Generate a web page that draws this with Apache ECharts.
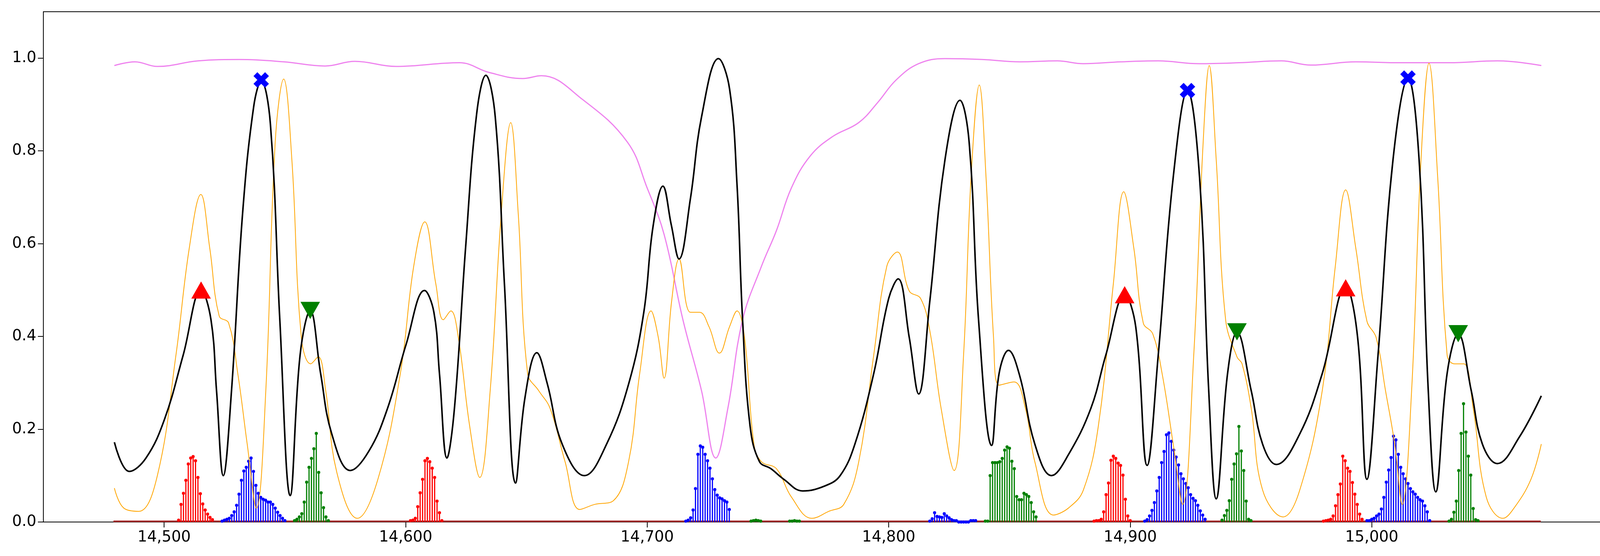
<!DOCTYPE html>
<html><head><meta charset="utf-8">
<script src="https://cdn.jsdelivr.net/npm/echarts@6/dist/echarts.min.js"></script>
<style>html,body{margin:0;padding:0;background:#fff}#c{width:4159px;height:1423px}</style>
</head><body><div id="c"></div>
<script>
// ---- data ----
const blackLine = [[14479.4,0.172],[14485.6,0.109],[14492.5,0.138],[14500.2,0.222],[14507.9,0.36],[14515.3,0.50],[14519.4,0.436],[14521.7,0.283],[14524.5,0.10],[14527.9,0.283],[14532.5,0.666],[14537.1,0.896],[14540.2,0.951],[14544,0.858],[14547.9,0.436],[14552.2,0.057],[14556.3,0.36],[14560.5,0.456],[14564.8,0.32],[14569.4,0.19],[14577.1,0.111],[14584.8,0.153],[14592.5,0.245],[14600.2,0.383],[14607.8,0.499],[14611.7,0.452],[14614,0.32],[14617.1,0.138],[14620.2,0.245],[14624.8,0.59],[14629.4,0.88],[14633.2,0.963],[14637.1,0.873],[14640.9,0.513],[14645.5,0.084],[14649.4,0.268],[14654.3,0.365],[14658.6,0.299],[14664.8,0.168],[14674,0.10],[14683.2,0.168],[14692.4,0.299],[14698.6,0.452],[14702.4,0.636],[14706.5,0.724],[14710,0.64],[14713.2,0.567],[14717.9,0.697],[14722.5,0.873],[14729.5,0.999],[14734.1,0.934],[14737.2,0.727],[14739.5,0.436],[14742.6,0.207],[14746.5,0.130],[14751.2,0.115],[14756.6,0.092],[14764.4,0.067],[14773.7,0.078],[14779.9,0.10],[14786,0.168],[14793.8,0.32],[14800,0.482],[14803.9,0.524],[14808.5,0.398],[14812.4,0.276],[14817,0.475],[14823.3,0.781],[14829.5,0.909],[14833.3,0.819],[14837.2,0.436],[14842.6,0.165],[14845.7,0.32],[14849.6,0.37],[14854.3,0.314],[14860.5,0.168],[14867.4,0.10],[14874.4,0.145],[14883.7,0.245],[14889.9,0.36],[14897.7,0.49],[14902.3,0.42],[14907,0.122],[14911.6,0.36],[14917.8,0.743],[14923.7,0.93],[14928.7,0.743],[14932.5,0.283],[14935.6,0.05],[14940.3,0.32],[14944.2,0.41],[14950.1,0.283],[14954.8,0.168],[14960.5,0.124],[14970.2,0.19],[14979.5,0.32],[14989.2,0.507],[14994.1,0.40],[14998,0.092],[15002.6,0.36],[15008.8,0.781],[15015,0.957],[15019.6,0.781],[15023.4,0.283],[15026.5,0.065],[15031.2,0.32],[15035.8,0.406],[15041.2,0.283],[15045.8,0.168],[15052,0.126],[15061.2,0.184],[15070.2,0.272]];
const orangeLine = [[14479.4,0.073],[14483.3,0.03],[14489.5,0.023],[14497.2,0.10],[14504.9,0.36],[14510.4,0.59],[14515.2,0.706],[14518.9,0.59],[14522.8,0.444],[14526.7,0.429],[14530.5,0.32],[14534.4,0.168],[14538.2,0.03],[14542.1,0.283],[14546,0.819],[14549.5,0.955],[14552.9,0.78],[14556.8,0.398],[14560.7,0.341],[14563.8,0.356],[14566.9,0.283],[14571.5,0.107],[14580,0.008],[14588.5,0.092],[14597.8,0.32],[14603.3,0.55],[14607.9,0.647],[14612.5,0.513],[14615.6,0.436],[14618.7,0.455],[14621.8,0.398],[14626.5,0.207],[14630.7,0.096],[14635,0.283],[14639.6,0.666],[14643.5,0.861],[14646.6,0.666],[14650.5,0.32],[14655.1,0.283],[14659.8,0.245],[14666,0.13],[14672.1,0.027],[14678.3,0.038],[14686,0.046],[14692.3,0.13],[14696.9,0.32],[14701.6,0.455],[14704.6,0.398],[14707,0.31],[14710.1,0.475],[14713.2,0.567],[14717.9,0.452],[14721.7,0.452],[14725.6,0.421],[14729.9,0.364],[14734.1,0.421],[14737.2,0.455],[14740.3,0.398],[14744.2,0.168],[14747.3,0.13],[14753.5,0.115],[14759.7,0.054],[14768.2,0.008],[14775.2,0.023],[14781.4,0.038],[14787.6,0.13],[14793.8,0.36],[14799.2,0.551],[14803.6,0.582],[14808.5,0.498],[14813.2,0.482],[14817,0.413],[14821.7,0.245],[14827.1,0.111],[14831,0.36],[14834.1,0.743],[14837.5,0.942],[14840.3,0.743],[14843.4,0.398],[14845.7,0.295],[14851.9,0.302],[14856.6,0.245],[14860.5,0.13],[14868.2,0.015],[14874.4,0.03],[14880.6,0.069],[14886.8,0.207],[14893,0.513],[14897.3,0.712],[14901.5,0.59],[14905.4,0.429],[14909.3,0.406],[14913.2,0.32],[14917.8,0.168],[14921.7,0.038],[14926.3,0.36],[14930.2,0.819],[14932.7,0.984],[14935.6,0.781],[14939.5,0.436],[14944.2,0.356],[14946.3,0.341],[14950.1,0.245],[14954.8,0.069],[14963.3,0.011],[14970.2,0.069],[14979.5,0.283],[14984.9,0.551],[14989.2,0.716],[14993.4,0.59],[14998,0.433],[15001.8,0.398],[15005.7,0.283],[15009.5,0.168],[15012.6,0.038],[15016.5,0.283],[15020.4,0.781],[15023.7,0.989],[15027.3,0.743],[15031.2,0.36],[15034.2,0.341],[15038.1,0.341],[15042,0.245],[15047.4,0.054],[15054.3,0.008],[15058.9,0.03],[15065.9,0.092],[15070.2,0.168]];
const violetLine = [[14479.4,0.984],[14487.9,0.992],[14497.2,0.982],[14514.1,0.994],[14531.1,0.997],[14549.6,0.992],[14566.6,0.983],[14579,0.993],[14596,0.982],[14622.3,0.99],[14634.6,0.969],[14648.5,0.956],[14656.2,0.962],[14673.2,0.911],[14691.8,0.819],[14700,0.72],[14707,0.62],[14714.8,0.436],[14722.5,0.283],[14728.4,0.138],[14733.4,0.245],[14739.5,0.436],[14747.3,0.551],[14753.5,0.628],[14759.7,0.72],[14767.5,0.789],[14776.8,0.831],[14787.6,0.861],[14795.4,0.904],[14803.1,0.953],[14812.4,0.988],[14823.3,0.999],[14838.8,0.997],[14854.3,0.992],[14869.8,0.994],[14880.6,0.988],[14896.1,0.992],[14911.6,0.994],[14928.5,0.988],[14945,0.99],[14962.5,0.994],[14974.8,0.985],[14993.4,0.992],[15012,0.99],[15031.9,0.99],[15052,0.994],[15070.2,0.984]];
const baseline = [[14479,0.0015],[15070,0.0015]];
const redStarts = [14506, 14602, 14885, 14980];
const redValues = [
 [0.004,0.038,0.062,0.09,0.125,0.138,0.141,0.132,0.096,0.061,0.039,0.026,0.017,0.010,0.005],
 [0.003,0.004,0.008,0.033,0.063,0.092,0.132,0.137,0.130,0.116,0.096,0.045,0.020,0.003],
 [0.002,0.003,0.003,0.006,0.022,0.059,0.084,0.133,0.142,0.137,0.127,0.122,0.101,0.049,0.013,0.003],
 [0.002,0.003,0.004,0.006,0.013,0.035,0.059,0.082,0.142,0.132,0.116,0.109,0.085,0.06,0.038,0.017,0.006]];
const blueStarts = [14524, 14716, 14817, 14906, 14998];
const blueValues = [
 [0.002,0.004,0.006,0.008,0.014,0.022,0.036,0.06,0.09,0.11,0.118,0.131,0.138,0.109,0.079,0.062,0.053,0.049,0.047,0.043,0.043,0.038,0.03,0.021,0.014,0.008,0.003],
 [0.002,0.004,0.009,0.026,0.072,0.146,0.164,0.161,0.146,0.132,0.116,0.093,0.07,0.058,0.052,0.05,0.046,0.043,0.027],
 [0.002,0.007,0.02,0.012,0.011,0.01,0.018,0.013,0.009,0.005,0.003,0.003,0,0,0,0,0,0.003,0.003,0.003],
 [0.002,0.005,0.013,0.025,0.042,0.067,0.096,0.128,0.152,0.188,0.192,0.174,0.155,0.14,0.123,0.104,0.093,0.083,0.074,0.059,0.051,0.046,0.036,0.024,0.015,0.006],
 [0.003,0.003,0.006,0.008,0.013,0.017,0.028,0.053,0.086,0.112,0.139,0.185,0.177,0.146,0.118,0.104,0.093,0.083,0.072,0.065,0.06,0.053,0.048,0.045,0.035,0.022,0.003]];
const greenStarts = [14554, 14743, 14759, 14840, 14938, 15032];
const greenValues = [
 [0.003,0.006,0.011,0.018,0.043,0.086,0.118,0.137,0.158,0.191,0.107,0.063,0.031,0.011,0.003],
 [0.002,0.003,0.004,0.003,0.002],
 [0.002,0.002,0.003,0.002,0.002],
 [0.002,0.002,0.10,0.128,0.128,0.128,0.13,0.137,0.155,0.162,0.159,0.131,0.115,0.055,0.048,0.048,0.062,0.059,0.055,0.042,0.022,0.011],
 [0.004,0.014,0.025,0.046,0.092,0.125,0.147,0.206,0.153,0.111,0.045,0.006,0.003],
 [0.002,0.006,0.021,0.045,0.111,0.191,0.255,0.194,0.142,0.101,0.029,0.005,0.003]];
const redMarks = [[14515.3,0.50],[14897.7,0.49],[14989.2,0.505]];
const blueMarks = [[14540.2,0.953],[14923.7,0.93],[15015,0.957]];
const greenMarks = [[14560.5,0.456],[14944.2,0.41],[15035.8,0.406]];
const xTicks = [14500,14600,14700,14800,14900,15000];
const yTicks = [0,0.2,0.4,0.6,0.8,1.0];

function stems(starts, values){
  const out=[];
  starts.forEach((s,i)=>values[i].forEach((v,j)=>out.push([s+j,v])));
  return out;
}
function stemSeries(data,color){
  return {type:'custom',data:data,z:3,renderItem:function(params,api){
    const p0=api.coord([api.value(0),0]);const p1=api.coord([api.value(0),api.value(1)]);
    return {type:'group',children:[
      {type:'line',shape:{x1:p0[0],y1:p0[1],x2:p1[0],y2:p1[1]},style:{stroke:color,lineWidth:3}},
      {type:'circle',shape:{cx:p1[0],cy:p1[1],r:4},style:{fill:color}}]};
  }};
}
const PLUS_PATH='path://M-1,-3 L1,-3 L1,-1 L3,-1 L3,1 L1,1 L1,3 L-1,3 L-1,1 L-3,1 L-3,-1 L-1,-1 Z';
const chart=echarts.init(document.getElementById('c'));
const font="'DejaVu Sans'";
chart.setOption({
  animation:false,
  grid:{left:111,right:29,top:30,bottom:87,show:true,borderColor:'#000',borderWidth:2},
  xAxis:{type:'value',min:14450,max:15100,splitLine:{show:false},
    axisLine:{lineStyle:{color:'#000',width:2}},
    axisTick:{customValues:xTicks,length:14,lineStyle:{color:'#000',width:2}},
    axisLabel:{customValues:xTicks,color:'#000',fontSize:39,fontFamily:font,margin:20,
      formatter:v=>v.toLocaleString('en-US')}},
  yAxis:{type:'value',min:0,max:1.1,splitLine:{show:false},
    axisLine:{show:true,lineStyle:{color:'#000',width:2}},
    axisTick:{show:true,customValues:yTicks,length:14,lineStyle:{color:'#000',width:2}},
    axisLabel:{customValues:yTicks,color:'#000',fontSize:39,fontFamily:font,margin:18,
      formatter:v=>v.toFixed(1)}},
  series:[
    {type:'line',data:baseline,symbol:'none',lineStyle:{color:'#a52a2a',width:4},z:2},
    stemSeries(stems(redStarts,redValues),'#ff0000'),
    stemSeries(stems(blueStarts,blueValues),'#0000ff'),
    stemSeries(stems(greenStarts,greenValues),'#008000'),
    {type:'line',data:violetLine,symbol:'none',smooth:0.4,lineStyle:{color:'#ee82ee',width:3},z:4},
    {type:'line',data:orangeLine,symbol:'none',smooth:0.4,lineStyle:{color:'#ffa500',width:2},z:5},
    {type:'line',data:blackLine,symbol:'none',smooth:0.4,lineStyle:{color:'#000',width:4},z:6},
    {type:'scatter',data:redMarks,symbol:'triangle',symbolSize:[50,44],itemStyle:{color:'#ff0000',opacity:1},z:7},
    {type:'scatter',data:blueMarks,symbol:PLUS_PATH,symbolRotate:45,symbolSize:42,itemStyle:{color:'#0000ff',opacity:1},z:7},
    {type:'scatter',data:greenMarks,symbol:'triangle',symbolRotate:180,symbolSize:[50,44],itemStyle:{color:'#008000',opacity:1},z:7}
  ]
});
</script></body></html>
